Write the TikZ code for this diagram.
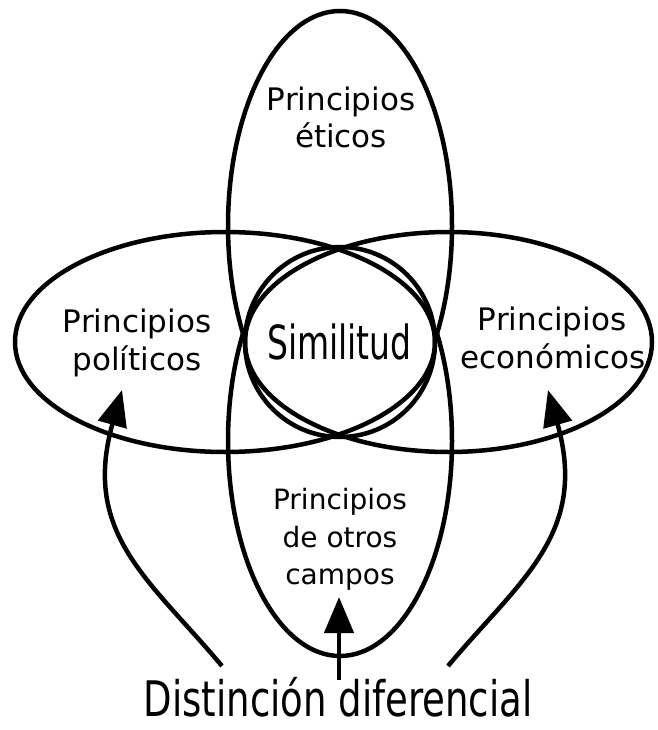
\documentclass[tikz,border=0pt]{standalone}
\usepackage{fontspec}
\usepackage{graphicx}
\setmainfont{DejaVu Sans}
\newfontfamily\condfont{DejaVu Sans Condensed}
\usetikzlibrary{arrows.meta}
\begin{document}
\begin{tikzpicture}[x=1pt,y=-1pt,
  outl/.style={line width=4.5pt},
  lbl/.style={font=\fontsize{31}{37}\selectfont, anchor=base, inner sep=0pt},
  lbls/.style={font=\fontsize{28}{38}\selectfont, anchor=base, inner sep=0pt},
  arr/.style={line width=4.5pt, -{Triangle[length=36pt,width=29pt]}}]
\useasboundingbox (0,0) rectangle (657,730);
% horizontal ellipses
\draw[outl] (225,342) ellipse [x radius=210, y radius=110];
\draw[outl] (448.5,342) ellipse [x radius=203.5, y radius=110];
% vertical pinched shape
\begin{scope}
  \clip (0,0) rectangle (657,333.5);
  \draw[outl] (340,226) ellipse [x radius=112, y radius=215];
\end{scope}
\begin{scope}
  \clip (0,333.5) rectangle (657,730);
  \draw[outl] (340,441) ellipse [x radius=112, y radius=215];
\end{scope}
% circle
\draw[outl] (340,342) circle [radius=95];
% labels
\node[lbl] (eti1) at (341,111) {Principios};
\node[lbl] (eti2) at (341,148) {éticos};
\node[lbl] (pol1) at (137,332) {Principios};
\node[lbl] (pol2) at (137,370) {políticos};
\node[lbl] (eco1) at (552,330) {Principios};
\node[lbl] (eco2) at (553,368) {económicos};
\node[lbls] (otr1) at (340,509) {Principios};
\node[lbls] (otr2) at (340,547) {de otros};
\node[lbls] (otr3) at (340,584) {campos};
\node[anchor=base, inner sep=0pt, font=\condfont\fontsize{47}{50}\selectfont] (sim) at (339.5,359) {\scalebox{0.78}[1]{Similitud}};
\node[anchor=base, inner sep=0pt, font=\condfont\fontsize{49}{52}\selectfont] (dist) at (338,716) {\scalebox{0.84}[1]{Distinción diferencial}};
% arrow ends
\coordinate (lS) at (222,666);
\coordinate (lE) at (122,390);
\coordinate (rS) at (448,666);
\coordinate (rE) at (548,390);
\coordinate (cS) at (339,680);
\coordinate (cE) at (339,597);
\draw[arr] (lS) .. controls (150,580) and (81.5,534) .. (lE);
\draw[arr] (rS) .. controls (520,580) and (588.5,534) .. (rE);
\draw[arr] (cS) -- (cE);
\end{tikzpicture}
\end{document}
